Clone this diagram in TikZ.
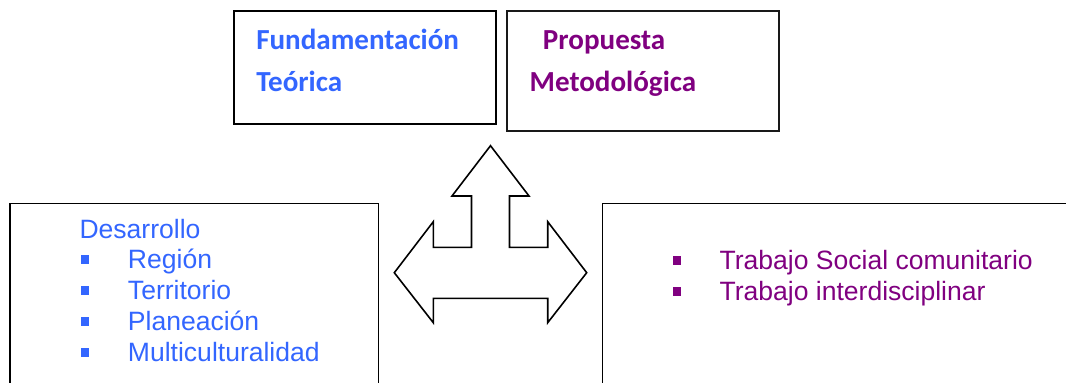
\documentclass[tikz,border=0pt]{standalone}
\usepackage{fontspec}
\newfontfamily\arialf{Liberation Sans}
\newfontfamily\calib{Carlito}
\definecolor{wblue}{RGB}{51,102,255}
\definecolor{wpurple}{RGB}{128,0,128}
\begin{document}
\begin{tikzpicture}[x=0.75pt,y=-0.75pt,
  frame/.style={draw=black,line width=1.2pt},
  frameb/.style={draw=black!90,line width=1.8pt},
  toptxt/.style={anchor=base west,inner sep=0pt,font=\calib\bfseries\fontsize{21.8}{24}\selectfont},
  lowtxt/.style={anchor=base west,inner sep=0pt,font=\arialf\fontsize{19.9}{23}\selectfont},
  bul/.style={inner sep=0pt,minimum size=6.3pt,fill=#1}]
\useasboundingbox (0,0) rectangle (1066,382);
\fill[white] (0,0) rectangle (1066,382);
\clip (0,0) rectangle (1066,382);
% top boxes
\draw[frame] (234,10.7) rectangle (496,124);
\draw[frameb] (506.7,11) rectangle (778.7,130.7);
\node[toptxt,text=wblue] (f1) at (256,49.5) {Fundamentación};
\node[toptxt,text=wblue] (f2) at (256,91.7) {Teórica};
\node[toptxt,text=wpurple] (p1) at (542.7,49.5) {Propuesta};
\node[toptxt,text=wpurple] (p2) at (529.4,91.7) {Metodológica};
% arrow shape
\draw[line width=1.2pt,line join=miter]
  (490.5,145.7) -- (529,196) -- (509.5,196) -- (509.5,247.3) -- (547.7,247.3)
  -- (547.7,221.7) -- (586.7,272.7) -- (547.7,322.7) -- (547.7,298.3)
  -- (433.3,298.3) -- (433.3,322.7) -- (394.3,272.7) -- (433.3,221.7)
  -- (433.3,247.3) -- (471.5,247.3) -- (471.5,196) -- (452,196) -- cycle;
% bottom boxes
\draw[frame] (10,203.3) rectangle (378.3,420);
\draw[frame] (602.3,203.3) rectangle (1100,420);
\node[lowtxt,text=wblue] (d0) at (79.3,238.3) {Desarrollo};
\node[bul=wblue] (b1) at (85,259.5) {};
\node[lowtxt,text=wblue] (d1) at (127.7,268.3) {Región};
\node[bul=wblue] (b2) at (85,290.5) {};
\node[lowtxt,text=wblue] (d2) at (127.7,299.3) {Territorio};
\node[bul=wblue] (b3) at (85,321.5) {};
\node[lowtxt,text=wblue] (d3) at (127.7,330.3) {Planeación};
\node[bul=wblue] (b4) at (85,352.5) {};
\node[lowtxt,text=wblue] (d4) at (127.7,361) {Multiculturalidad};
\node[bul=wpurple] (c1) at (677,260.5) {};
\node[lowtxt,text=wpurple] (t1) at (719.3,269) {Trabajo Social comunitario};
\node[bul=wpurple] (c2) at (677,291.5) {};
\node[lowtxt,text=wpurple] (t2) at (719.3,300) {Trabajo interdisciplinar};
\end{tikzpicture}
\end{document}
